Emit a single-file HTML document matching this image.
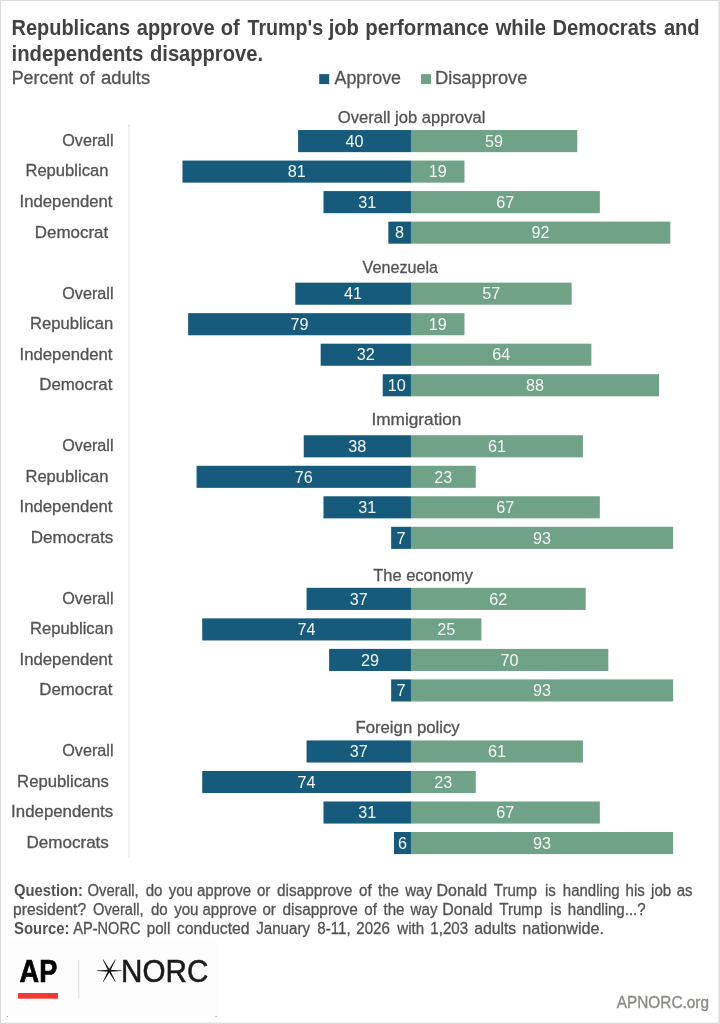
<!DOCTYPE html>
<html lang="en">
<head>
<meta charset="utf-8">
<title>Republicans approve of Trump's job performance while Democrats and independents disapprove.</title>
<style>
html,body{margin:0;padding:0;background:#fff;}
body{width:720px;height:1024px;overflow:hidden;}
svg{display:block;font-family:'Liberation Sans', sans-serif;}
</style>
</head>
<body>
<svg width="720" height="1024" viewBox="0 0 720 1024">
<rect x="0.00" y="0.00" width="720.00" height="1024.00" fill="#dcdcdc"/>
<rect x="1.00" y="1.00" width="717.60" height="1021.60" fill="#ffffff"/>
<rect x="319.20" y="74.10" width="10.00" height="10.00" fill="#175b7c"/>
<rect x="421.00" y="74.10" width="10.00" height="10.00" fill="#70a288"/>
<rect x="128.40" y="125.00" width="1.00" height="733.00" fill="#e4e4e4"/>
<text y="34.80" font-size="21.9" fill="#424242"><tspan x="11.59" textLength="118.57" lengthAdjust="spacingAndGlyphs" font-weight="700" stroke="none">Republicans</tspan> <tspan x="136.75" textLength="77.91" lengthAdjust="spacingAndGlyphs" font-weight="700" stroke="none">approve</tspan> <tspan x="220.80" textLength="19.00" lengthAdjust="spacingAndGlyphs" font-weight="700" stroke="none">of</tspan> <tspan x="247.50" textLength="75.66" lengthAdjust="spacingAndGlyphs" font-weight="700" stroke="none">Trump&#x27;s</tspan> <tspan x="328.66" textLength="30.19" lengthAdjust="spacingAndGlyphs" font-weight="700" stroke="none">job</tspan> <tspan x="365.32" textLength="123.59" lengthAdjust="spacingAndGlyphs" font-weight="700" stroke="none">performance</tspan> <tspan x="495.72" textLength="50.34" lengthAdjust="spacingAndGlyphs" font-weight="700" stroke="none">while</tspan> <tspan x="552.38" textLength="104.48" lengthAdjust="spacingAndGlyphs" font-weight="700" stroke="none">Democrats</tspan> <tspan x="663.89" textLength="35.79" lengthAdjust="spacingAndGlyphs" font-weight="700" stroke="none">and</tspan></text>
<text y="60.80" font-size="21.9" fill="#424242"><tspan x="11.57" textLength="131.84" lengthAdjust="spacingAndGlyphs" font-weight="700" stroke="none">independents</tspan> <tspan x="150.00" textLength="112.99" lengthAdjust="spacingAndGlyphs" font-weight="700" stroke="none">disapprove.</tspan></text>
<text y="84.00" font-size="18.0" fill="#535353"><tspan x="11.71" textLength="61.59" lengthAdjust="spacingAndGlyphs" stroke="#535353" stroke-width="0.3">Percent</tspan> <tspan x="79.58" textLength="15.13" lengthAdjust="spacingAndGlyphs" stroke="#535353" stroke-width="0.3">of</tspan> <tspan x="101.10" textLength="49.10" lengthAdjust="spacingAndGlyphs" stroke="#535353" stroke-width="0.3">adults</tspan></text>
<text y="84.30" font-size="18.0" fill="#535353"><tspan x="334.50" textLength="66.51" lengthAdjust="spacingAndGlyphs" stroke="#535353" stroke-width="0.3">Approve</tspan></text>
<text y="84.30" font-size="18.0" fill="#535353"><tspan x="434.99" textLength="92.32" lengthAdjust="spacingAndGlyphs" stroke="#535353" stroke-width="0.3">Disapprove</tspan></text>
<text y="123.00" font-size="16.9" fill="#535353"><tspan x="337.80" textLength="147.64" lengthAdjust="spacingAndGlyphs" stroke="#535353" stroke-width="0.3">Overall job approval</tspan></text>
<text y="145.94" font-size="16.8" fill="#535353"><tspan x="62.20" textLength="51.30" lengthAdjust="spacingAndGlyphs" stroke="#535353" stroke-width="0.3">Overall</tspan></text>
<rect x="298.10" y="130.04" width="113.00" height="22.10" fill="#175b7c"/>
<rect x="410.90" y="130.04" width="166.38" height="22.10" fill="#70a288"/>
<text x="354.50" y="146.84" font-size="16.2" text-anchor="middle" fill="#f4f7f5">40</text>
<text x="494.09" y="146.84" font-size="16.2" text-anchor="middle" fill="#f4f7f5">59</text>
<text y="176.46" font-size="16.8" fill="#535353"><tspan x="25.41" textLength="83.02" lengthAdjust="spacingAndGlyphs" stroke="#535353" stroke-width="0.3">Republican</tspan></text>
<rect x="182.48" y="160.56" width="228.62" height="22.10" fill="#175b7c"/>
<rect x="410.90" y="160.56" width="53.58" height="22.10" fill="#70a288"/>
<text x="296.69" y="177.36" font-size="16.2" text-anchor="middle" fill="#f4f7f5">81</text>
<text x="437.69" y="177.36" font-size="16.2" text-anchor="middle" fill="#f4f7f5">19</text>
<text y="206.98" font-size="16.8" fill="#535353"><tspan x="19.60" textLength="92.86" lengthAdjust="spacingAndGlyphs" stroke="#535353" stroke-width="0.3">Independent</tspan></text>
<rect x="323.48" y="191.08" width="87.62" height="22.10" fill="#175b7c"/>
<rect x="410.90" y="191.08" width="188.94" height="22.10" fill="#70a288"/>
<text x="367.19" y="207.88" font-size="16.2" text-anchor="middle" fill="#f4f7f5">31</text>
<text x="505.37" y="207.88" font-size="16.2" text-anchor="middle" fill="#f4f7f5">67</text>
<text y="237.50" font-size="16.8" fill="#535353"><tspan x="34.89" textLength="73.27" lengthAdjust="spacingAndGlyphs" stroke="#535353" stroke-width="0.3">Democrat</tspan></text>
<rect x="388.34" y="221.60" width="22.76" height="22.10" fill="#175b7c"/>
<rect x="410.90" y="221.60" width="259.44" height="22.10" fill="#70a288"/>
<text x="399.62" y="238.40" font-size="16.2" text-anchor="middle" fill="#f4f7f5">8</text>
<text x="540.62" y="238.40" font-size="16.2" text-anchor="middle" fill="#f4f7f5">92</text>
<text y="273.20" font-size="16.9" fill="#535353"><tspan x="362.60" textLength="75.42" lengthAdjust="spacingAndGlyphs" stroke="#535353" stroke-width="0.3">Venezuela</tspan></text>
<text y="298.54" font-size="16.8" fill="#535353"><tspan x="62.20" textLength="51.30" lengthAdjust="spacingAndGlyphs" stroke="#535353" stroke-width="0.3">Overall</tspan></text>
<rect x="295.28" y="282.64" width="115.82" height="22.10" fill="#175b7c"/>
<rect x="410.90" y="282.64" width="160.74" height="22.10" fill="#70a288"/>
<text x="353.09" y="299.44" font-size="16.2" text-anchor="middle" fill="#f4f7f5">41</text>
<text x="491.27" y="299.44" font-size="16.2" text-anchor="middle" fill="#f4f7f5">57</text>
<text y="329.06" font-size="16.8" fill="#535353"><tspan x="30.11" textLength="83.02" lengthAdjust="spacingAndGlyphs" stroke="#535353" stroke-width="0.3">Republican</tspan></text>
<rect x="188.12" y="313.16" width="222.98" height="22.10" fill="#175b7c"/>
<rect x="410.90" y="313.16" width="53.58" height="22.10" fill="#70a288"/>
<text x="299.51" y="329.96" font-size="16.2" text-anchor="middle" fill="#f4f7f5">79</text>
<text x="437.69" y="329.96" font-size="16.2" text-anchor="middle" fill="#f4f7f5">19</text>
<text y="359.58" font-size="16.8" fill="#535353"><tspan x="19.60" textLength="92.86" lengthAdjust="spacingAndGlyphs" stroke="#535353" stroke-width="0.3">Independent</tspan></text>
<rect x="320.66" y="343.68" width="90.44" height="22.10" fill="#175b7c"/>
<rect x="410.90" y="343.68" width="180.48" height="22.10" fill="#70a288"/>
<text x="365.78" y="360.48" font-size="16.2" text-anchor="middle" fill="#f4f7f5">32</text>
<text x="501.14" y="360.48" font-size="16.2" text-anchor="middle" fill="#f4f7f5">64</text>
<text y="390.10" font-size="16.8" fill="#535353"><tspan x="39.19" textLength="73.27" lengthAdjust="spacingAndGlyphs" stroke="#535353" stroke-width="0.3">Democrat</tspan></text>
<rect x="382.70" y="374.20" width="28.40" height="22.10" fill="#175b7c"/>
<rect x="410.90" y="374.20" width="248.16" height="22.10" fill="#70a288"/>
<text x="396.80" y="391.00" font-size="16.2" text-anchor="middle" fill="#f4f7f5">10</text>
<text x="534.98" y="391.00" font-size="16.2" text-anchor="middle" fill="#f4f7f5">88</text>
<text y="424.80" font-size="16.9" fill="#535353"><tspan x="371.48" textLength="89.92" lengthAdjust="spacingAndGlyphs" stroke="#535353" stroke-width="0.3">Immigration</tspan></text>
<text y="451.14" font-size="16.8" fill="#535353"><tspan x="62.20" textLength="51.30" lengthAdjust="spacingAndGlyphs" stroke="#535353" stroke-width="0.3">Overall</tspan></text>
<rect x="303.74" y="435.24" width="107.36" height="22.10" fill="#175b7c"/>
<rect x="410.90" y="435.24" width="172.02" height="22.10" fill="#70a288"/>
<text x="357.32" y="452.04" font-size="16.2" text-anchor="middle" fill="#f4f7f5">38</text>
<text x="496.91" y="452.04" font-size="16.2" text-anchor="middle" fill="#f4f7f5">61</text>
<text y="481.66" font-size="16.8" fill="#535353"><tspan x="25.41" textLength="83.02" lengthAdjust="spacingAndGlyphs" stroke="#535353" stroke-width="0.3">Republican</tspan></text>
<rect x="196.58" y="465.76" width="214.52" height="22.10" fill="#175b7c"/>
<rect x="410.90" y="465.76" width="64.86" height="22.10" fill="#70a288"/>
<text x="303.74" y="482.56" font-size="16.2" text-anchor="middle" fill="#f4f7f5">76</text>
<text x="443.33" y="482.56" font-size="16.2" text-anchor="middle" fill="#f4f7f5">23</text>
<text y="512.18" font-size="16.8" fill="#535353"><tspan x="19.60" textLength="92.86" lengthAdjust="spacingAndGlyphs" stroke="#535353" stroke-width="0.3">Independent</tspan></text>
<rect x="323.48" y="496.28" width="87.62" height="22.10" fill="#175b7c"/>
<rect x="410.90" y="496.28" width="188.94" height="22.10" fill="#70a288"/>
<text x="367.19" y="513.08" font-size="16.2" text-anchor="middle" fill="#f4f7f5">31</text>
<text x="505.37" y="513.08" font-size="16.2" text-anchor="middle" fill="#f4f7f5">67</text>
<text y="542.70" font-size="16.8" fill="#535353"><tspan x="30.78" textLength="82.41" lengthAdjust="spacingAndGlyphs" stroke="#535353" stroke-width="0.3">Democrats</tspan></text>
<rect x="391.16" y="526.80" width="19.94" height="22.10" fill="#175b7c"/>
<rect x="410.90" y="526.80" width="262.26" height="22.10" fill="#70a288"/>
<text x="401.03" y="543.60" font-size="16.2" text-anchor="middle" fill="#f4f7f5">7</text>
<text x="542.03" y="543.60" font-size="16.2" text-anchor="middle" fill="#f4f7f5">93</text>
<text y="581.00" font-size="16.9" fill="#535353"><tspan x="373.20" textLength="99.86" lengthAdjust="spacingAndGlyphs" stroke="#535353" stroke-width="0.3">The economy</tspan></text>
<text y="603.74" font-size="16.8" fill="#535353"><tspan x="62.20" textLength="51.30" lengthAdjust="spacingAndGlyphs" stroke="#535353" stroke-width="0.3">Overall</tspan></text>
<rect x="306.56" y="587.84" width="104.54" height="22.10" fill="#175b7c"/>
<rect x="410.90" y="587.84" width="174.84" height="22.10" fill="#70a288"/>
<text x="358.73" y="604.64" font-size="16.2" text-anchor="middle" fill="#f4f7f5">37</text>
<text x="498.32" y="604.64" font-size="16.2" text-anchor="middle" fill="#f4f7f5">62</text>
<text y="634.26" font-size="16.8" fill="#535353"><tspan x="30.11" textLength="83.02" lengthAdjust="spacingAndGlyphs" stroke="#535353" stroke-width="0.3">Republican</tspan></text>
<rect x="202.22" y="618.36" width="208.88" height="22.10" fill="#175b7c"/>
<rect x="410.90" y="618.36" width="70.50" height="22.10" fill="#70a288"/>
<text x="306.56" y="635.16" font-size="16.2" text-anchor="middle" fill="#f4f7f5">74</text>
<text x="446.15" y="635.16" font-size="16.2" text-anchor="middle" fill="#f4f7f5">25</text>
<text y="664.78" font-size="16.8" fill="#535353"><tspan x="19.60" textLength="92.86" lengthAdjust="spacingAndGlyphs" stroke="#535353" stroke-width="0.3">Independent</tspan></text>
<rect x="329.12" y="648.88" width="81.98" height="22.10" fill="#175b7c"/>
<rect x="410.90" y="648.88" width="197.40" height="22.10" fill="#70a288"/>
<text x="370.01" y="665.68" font-size="16.2" text-anchor="middle" fill="#f4f7f5">29</text>
<text x="509.60" y="665.68" font-size="16.2" text-anchor="middle" fill="#f4f7f5">70</text>
<text y="695.30" font-size="16.8" fill="#535353"><tspan x="39.19" textLength="73.27" lengthAdjust="spacingAndGlyphs" stroke="#535353" stroke-width="0.3">Democrat</tspan></text>
<rect x="391.16" y="679.40" width="19.94" height="22.10" fill="#175b7c"/>
<rect x="410.90" y="679.40" width="262.26" height="22.10" fill="#70a288"/>
<text x="401.03" y="696.20" font-size="16.2" text-anchor="middle" fill="#f4f7f5">7</text>
<text x="542.03" y="696.20" font-size="16.2" text-anchor="middle" fill="#f4f7f5">93</text>
<text y="732.90" font-size="16.9" fill="#535353"><tspan x="355.41" textLength="104.34" lengthAdjust="spacingAndGlyphs" stroke="#535353" stroke-width="0.3">Foreign policy</tspan></text>
<text y="756.34" font-size="16.8" fill="#535353"><tspan x="62.20" textLength="51.30" lengthAdjust="spacingAndGlyphs" stroke="#535353" stroke-width="0.3">Overall</tspan></text>
<rect x="306.56" y="740.44" width="104.54" height="22.10" fill="#175b7c"/>
<rect x="410.90" y="740.44" width="172.02" height="22.10" fill="#70a288"/>
<text x="358.73" y="757.24" font-size="16.2" text-anchor="middle" fill="#f4f7f5">37</text>
<text x="496.91" y="757.24" font-size="16.2" text-anchor="middle" fill="#f4f7f5">61</text>
<text y="786.86" font-size="16.8" fill="#535353"><tspan x="17.11" textLength="91.78" lengthAdjust="spacingAndGlyphs" stroke="#535353" stroke-width="0.3">Republicans</tspan></text>
<rect x="202.22" y="770.96" width="208.88" height="22.10" fill="#175b7c"/>
<rect x="410.90" y="770.96" width="64.86" height="22.10" fill="#70a288"/>
<text x="306.56" y="787.76" font-size="16.2" text-anchor="middle" fill="#f4f7f5">74</text>
<text x="443.33" y="787.76" font-size="16.2" text-anchor="middle" fill="#f4f7f5">23</text>
<text y="817.38" font-size="16.8" fill="#535353"><tspan x="11.10" textLength="102.10" lengthAdjust="spacingAndGlyphs" stroke="#535353" stroke-width="0.3">Independents</tspan></text>
<rect x="323.48" y="801.48" width="87.62" height="22.10" fill="#175b7c"/>
<rect x="410.90" y="801.48" width="188.94" height="22.10" fill="#70a288"/>
<text x="367.19" y="818.28" font-size="16.2" text-anchor="middle" fill="#f4f7f5">31</text>
<text x="505.37" y="818.28" font-size="16.2" text-anchor="middle" fill="#f4f7f5">67</text>
<text y="847.90" font-size="16.8" fill="#535353"><tspan x="26.48" textLength="82.41" lengthAdjust="spacingAndGlyphs" stroke="#535353" stroke-width="0.3">Democrats</tspan></text>
<rect x="393.98" y="832.00" width="17.12" height="22.10" fill="#175b7c"/>
<rect x="410.90" y="832.00" width="262.26" height="22.10" fill="#70a288"/>
<text x="402.44" y="848.80" font-size="16.2" text-anchor="middle" fill="#f4f7f5">6</text>
<text x="542.03" y="848.80" font-size="16.2" text-anchor="middle" fill="#f4f7f5">93</text>
<text y="895.80" font-size="16" fill="#535353"><tspan x="14.00" textLength="68.98" lengthAdjust="spacingAndGlyphs" font-weight="700" stroke="none">Question:</tspan> <tspan x="87.50" textLength="51.16" lengthAdjust="spacingAndGlyphs" stroke="#535353" stroke-width="0.3">Overall,</tspan> <tspan x="145.69" textLength="16.78" lengthAdjust="spacingAndGlyphs" stroke="#535353" stroke-width="0.3">do</tspan> <tspan x="168.64" textLength="24.32" lengthAdjust="spacingAndGlyphs" stroke="#535353" stroke-width="0.3">you</tspan> <tspan x="197.00" textLength="54.15" lengthAdjust="spacingAndGlyphs" stroke="#535353" stroke-width="0.3">approve</tspan> <tspan x="256.98" textLength="13.41" lengthAdjust="spacingAndGlyphs" stroke="#535353" stroke-width="0.3">or</tspan> <tspan x="277.00" textLength="75.40" lengthAdjust="spacingAndGlyphs" stroke="#535353" stroke-width="0.3">disapprove</tspan> <tspan x="359.07" textLength="12.58" lengthAdjust="spacingAndGlyphs" stroke="#535353" stroke-width="0.3">of</tspan> <tspan x="377.97" textLength="20.97" lengthAdjust="spacingAndGlyphs" stroke="#535353" stroke-width="0.3">the</tspan> <tspan x="405.19" textLength="26.82" lengthAdjust="spacingAndGlyphs" stroke="#535353" stroke-width="0.3">way</tspan> <tspan x="436.50" textLength="50.65" lengthAdjust="spacingAndGlyphs" stroke="#535353" stroke-width="0.3">Donald</tspan> <tspan x="493.82" textLength="43.01" lengthAdjust="spacingAndGlyphs" stroke="#535353" stroke-width="0.3">Trump</tspan> <tspan x="545.01" textLength="10.89" lengthAdjust="spacingAndGlyphs" stroke="#535353" stroke-width="0.3">is</tspan> <tspan x="562.81" textLength="56.78" lengthAdjust="spacingAndGlyphs" stroke="#535353" stroke-width="0.3">handling</tspan> <tspan x="625.51" textLength="19.28" lengthAdjust="spacingAndGlyphs" stroke="#535353" stroke-width="0.3">his</tspan> <tspan x="651.11" textLength="20.13" lengthAdjust="spacingAndGlyphs" stroke="#535353" stroke-width="0.3">job</tspan> <tspan x="676.74" textLength="15.93" lengthAdjust="spacingAndGlyphs" stroke="#535353" stroke-width="0.3">as</tspan></text>
<text y="915.00" font-size="16" fill="#535353"><tspan x="13.02" textLength="73.13" lengthAdjust="spacingAndGlyphs" stroke="#535353" stroke-width="0.3">president?</tspan> <tspan x="93.00" textLength="50.66" lengthAdjust="spacingAndGlyphs" stroke="#535353" stroke-width="0.3">Overall,</tspan> <tspan x="150.94" textLength="16.78" lengthAdjust="spacingAndGlyphs" stroke="#535353" stroke-width="0.3">do</tspan> <tspan x="174.14" textLength="24.32" lengthAdjust="spacingAndGlyphs" stroke="#535353" stroke-width="0.3">you</tspan> <tspan x="202.50" textLength="54.40" lengthAdjust="spacingAndGlyphs" stroke="#535353" stroke-width="0.3">approve</tspan> <tspan x="262.48" textLength="13.41" lengthAdjust="spacingAndGlyphs" stroke="#535353" stroke-width="0.3">or</tspan> <tspan x="282.50" textLength="75.40" lengthAdjust="spacingAndGlyphs" stroke="#535353" stroke-width="0.3">disapprove</tspan> <tspan x="364.32" textLength="12.58" lengthAdjust="spacingAndGlyphs" stroke="#535353" stroke-width="0.3">of</tspan> <tspan x="383.47" textLength="20.97" lengthAdjust="spacingAndGlyphs" stroke="#535353" stroke-width="0.3">the</tspan> <tspan x="410.61" textLength="26.82" lengthAdjust="spacingAndGlyphs" stroke="#535353" stroke-width="0.3">way</tspan> <tspan x="442.26" textLength="50.39" lengthAdjust="spacingAndGlyphs" stroke="#535353" stroke-width="0.3">Donald</tspan> <tspan x="499.32" textLength="43.01" lengthAdjust="spacingAndGlyphs" stroke="#535353" stroke-width="0.3">Trump</tspan> <tspan x="550.58" textLength="10.89" lengthAdjust="spacingAndGlyphs" stroke="#535353" stroke-width="0.3">is</tspan> <tspan x="567.81" textLength="77.85" lengthAdjust="spacingAndGlyphs" stroke="#535353" stroke-width="0.3">handling...?</tspan></text>
<text y="934.00" font-size="16" fill="#535353"><tspan x="14.00" textLength="55.49" lengthAdjust="spacingAndGlyphs" font-weight="700" stroke="none">Source:</tspan> <tspan x="73.25" textLength="67.26" lengthAdjust="spacingAndGlyphs" stroke="#535353" stroke-width="0.3">AP-NORC</tspan> <tspan x="146.80" textLength="23.48" lengthAdjust="spacingAndGlyphs" stroke="#535353" stroke-width="0.3">poll</tspan> <tspan x="176.75" textLength="72.89" lengthAdjust="spacingAndGlyphs" stroke="#535353" stroke-width="0.3">conducted</tspan> <tspan x="256.25" textLength="53.75" lengthAdjust="spacingAndGlyphs" stroke="#535353" stroke-width="0.3">January</tspan> <tspan x="317.33" textLength="33.26" lengthAdjust="spacingAndGlyphs" stroke="#535353" stroke-width="0.3">8-11,</tspan> <tspan x="356.30" textLength="33.55" lengthAdjust="spacingAndGlyphs" stroke="#535353" stroke-width="0.3">2026</tspan> <tspan x="397.36" textLength="26.82" lengthAdjust="spacingAndGlyphs" stroke="#535353" stroke-width="0.3">with</tspan> <tspan x="430.36" textLength="37.74" lengthAdjust="spacingAndGlyphs" stroke="#535353" stroke-width="0.3">1,203</tspan> <tspan x="474.25" textLength="42.00" lengthAdjust="spacingAndGlyphs" stroke="#535353" stroke-width="0.3">adults</tspan> <tspan x="522.24" textLength="81.72" lengthAdjust="spacingAndGlyphs" stroke="#535353" stroke-width="0.3">nationwide.</tspan></text>
<rect x="8.00" y="939.30" width="209.00" height="78.00" fill="#fdfdfd"/>
<rect x="7.00" y="1016.00" width="1.00" height="1.00" fill="#9a9a9a"/>
<rect x="215.60" y="1016.00" width="1.00" height="1.00" fill="#9a9a9a"/>
<rect x="128.40" y="124.60" width="1.00" height="1.00" fill="#bdbdbd"/>
<text x="19.6" y="981.6" font-size="30.5" font-weight="700" fill="#000" stroke="#000" stroke-width="0.7" textLength="37.6" lengthAdjust="spacingAndGlyphs">AP</text>
<rect x="18.00" y="993.00" width="40.00" height="5.70" fill="#f03a33"/>
<rect x="78.30" y="959.70" width="1.00" height="38.60" fill="#d8dada"/>
<polygon points="121.65,971.03 109.25,971.75 96.85,971.03 96.85,970.47 109.25,969.75 121.65,970.47" fill="#151515"/>
<polygon points="115.16,981.99 108.38,971.23 102.85,959.78 103.34,959.51 110.12,970.27 115.65,981.72" fill="#151515"/>
<polygon points="102.85,981.72 108.38,970.27 115.16,959.51 115.65,959.78 110.12,971.23 103.34,981.99" fill="#151515"/>
<text x="121.1" y="981.6" font-size="30.5" fill="#1a1a1a" stroke="#1a1a1a" stroke-width="0.5" textLength="87.2" lengthAdjust="spacingAndGlyphs">NORC</text>
<text y="1007.60" font-size="16.3" fill="#8a8a87"><tspan x="616.70" textLength="92.30" lengthAdjust="spacingAndGlyphs" stroke="#8a8a87" stroke-width="0.35">APNORC.org</tspan></text>
</svg>
</body>
</html>
